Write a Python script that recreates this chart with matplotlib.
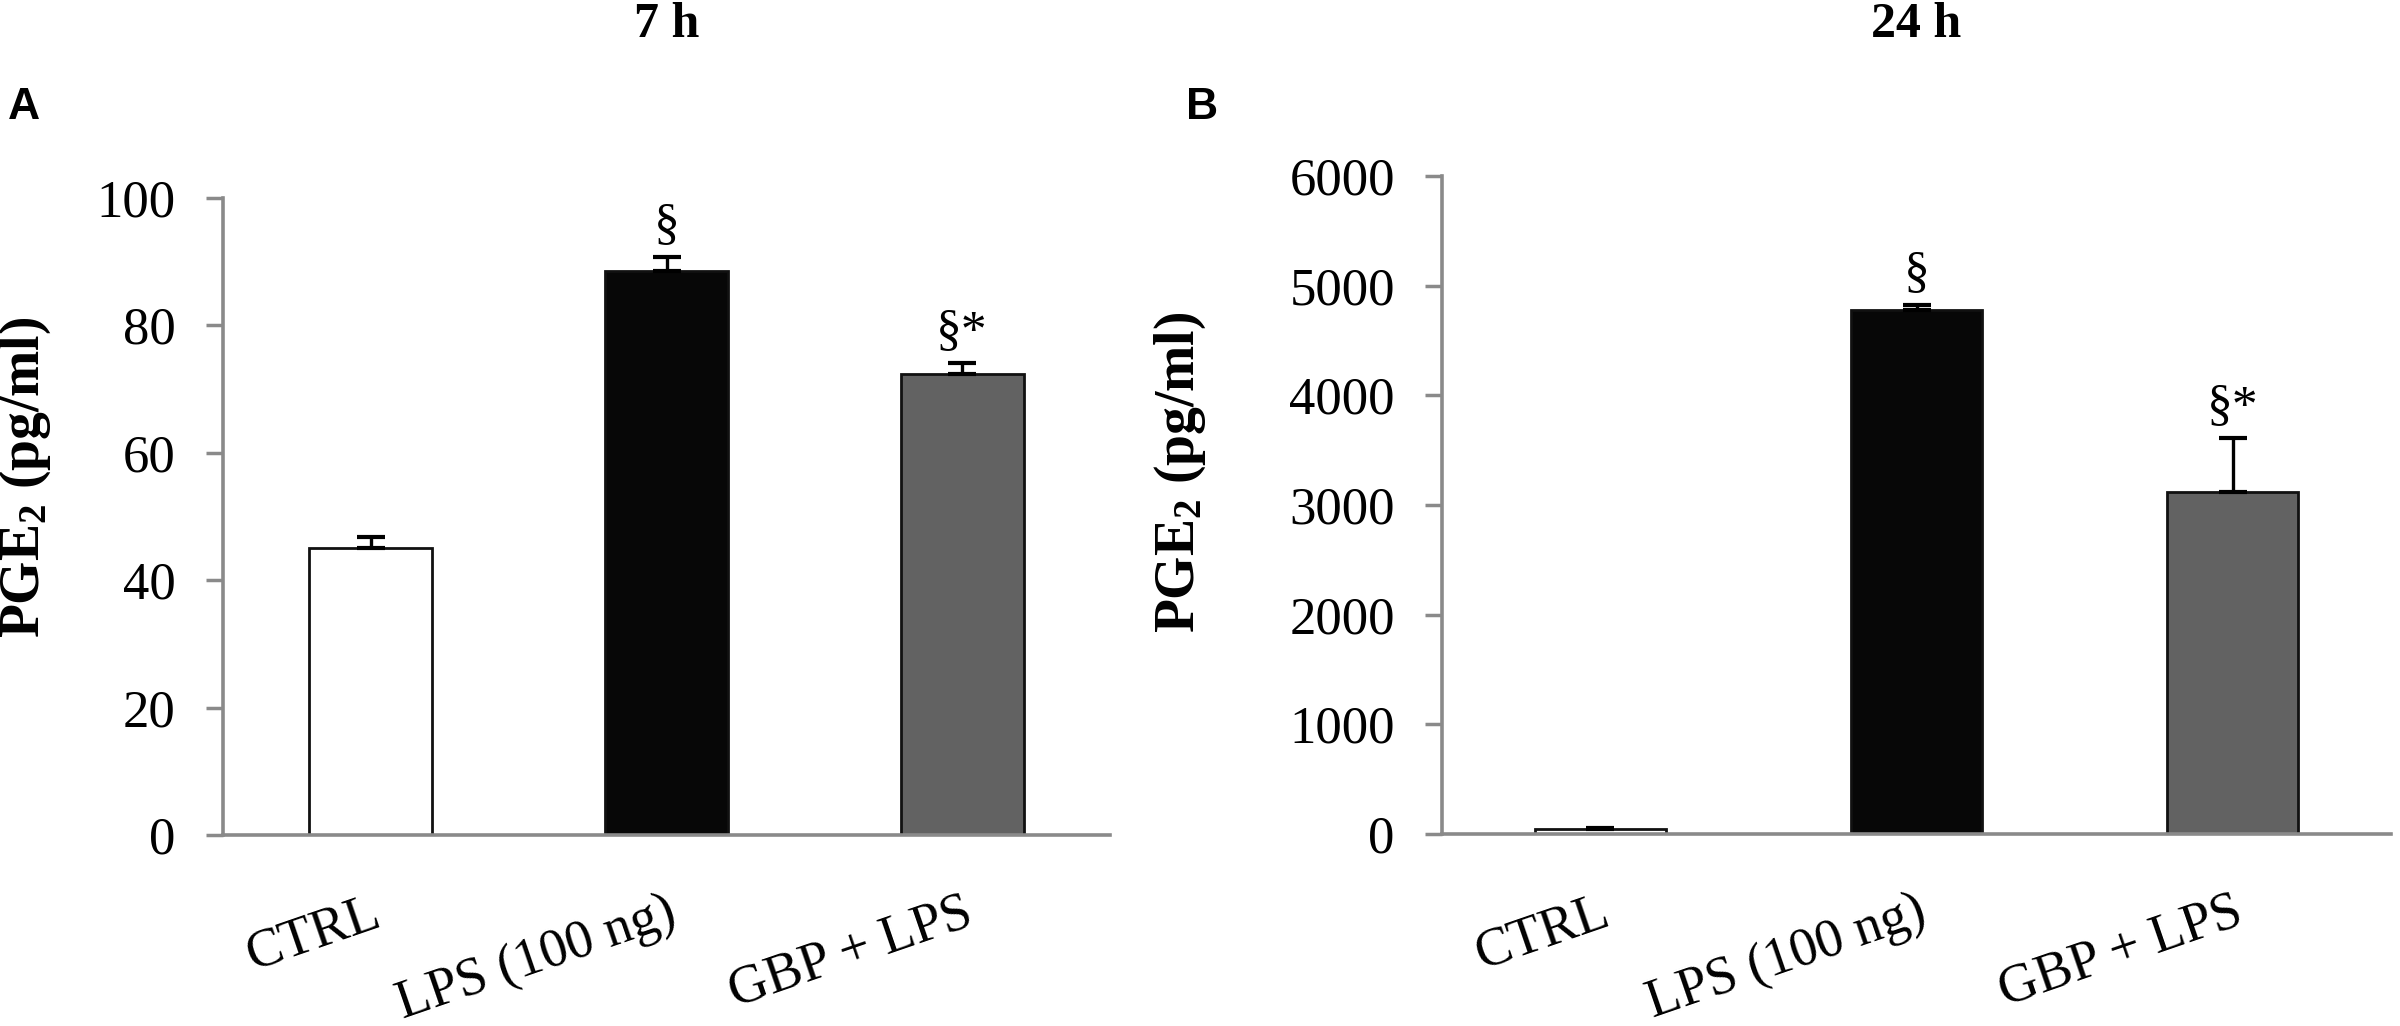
import matplotlib
matplotlib.use("Agg")
import matplotlib.pyplot as plt
import numpy as np

# ---- data ----
categories = ["CTRL", "LPS (100 ng)", "GBP + LPS"]
values_7h = [45.0, 88.5, 72.3]
errors_7h = [1.8, 2.2, 1.8]
values_24h = [45.0, 4780.0, 3120.0]
errors_24h = [8.0, 40.0, 490.0]
marks_7h = ["", "§", "§*"]
marks_24h = ["", "§", "§*"]
titles = ["7 h", "24 h"]
panel_letters = ["A", "B"]
ylims = [(0, 100), (0, 6000)]
yticks = [np.arange(0, 101, 20), np.arange(0, 6001, 1000)]
bar_colors = ["#ffffff", "#070707", "#626262"]

plt.rcParams["font.family"] = ["Liberation Serif", "DejaVu Serif"]
plt.rcParams["mathtext.fontset"] = "custom"
plt.rcParams["mathtext.rm"] = "Liberation Serif:bold"
plt.rcParams["mathtext.default"] = "rm"

W, H = 2400, 1026
fig = plt.figure(figsize=(W / 100, H / 100), dpi=100)

axes_px = [(223, 1110, 835, 198), (1442, 2391, 834, 176)]
label_coords = [(-0.192, 0.562), (-0.247, 0.549)]
letter_x = [8, 1186]

spine_col = "#8a8a8a"

for i in range(2):
    l, r, b, t = axes_px[i]
    ax = fig.add_axes([l / W, 1 - b / H, (r - l) / W, (b - t) / H])
    vals = values_7h if i == 0 else values_24h
    errs = errors_7h if i == 0 else errors_24h
    marks = marks_7h if i == 0 else marks_24h
    x = np.arange(len(categories))
    ax.bar(x, vals, width=0.415, color=bar_colors, edgecolor="#111111",
           linewidth=2.0, zorder=2)
    ax.errorbar(x, vals, yerr=[np.zeros(len(vals)), errs], fmt="none",
                ecolor="black", elinewidth=2.4, capsize=10, capthick=3.0,
                zorder=3)
    for xi, v, e, m in zip(x, vals, errs, marks):
        if m:
            ax.annotate(m, xy=(xi, v + e), xytext=(0, 6),
                        textcoords="offset points", ha="center",
                        va="bottom", fontsize=37)
    ax.set_xlim(-0.5, 2.5)
    ax.set_ylim(*ylims[i])
    ax.set_yticks(yticks[i])
    ax.set_xticks(x)
    ax.set_xticklabels(categories, rotation=19, ha="right", va="top",
                       rotation_mode="anchor", fontsize=39)
    ax.tick_params(axis="x", length=0, pad=38)
    ax.tick_params(axis="y", length=12, width=2.5, color=spine_col,
                   labelsize=38, pad=22)
    for s in ["top", "right"]:
        ax.spines[s].set_visible(False)
    for s in ["left", "bottom"]:
        ax.spines[s].set_color(spine_col)
        ax.spines[s].set_linewidth(2.6)
    ax.spines["bottom"].set_zorder(4)
    ax.set_ylabel(r"PGE$_2$ (pg/ml)", fontsize=40, fontweight="bold")
    ax.yaxis.set_label_coords(*label_coords[i])
    fig.text((l + r) / 2 / W, 1 - 25 / H, titles[i], ha="center",
             va="center", fontsize=36, fontweight="bold")
    fig.text(letter_x[i] / W, 1 - 119 / H, panel_letters[i], ha="left",
             va="baseline", fontsize=32, fontweight="bold",
             family=["Liberation Sans", "DejaVu Sans"])

fig.savefig("out.png", dpi=100, facecolor="white")
